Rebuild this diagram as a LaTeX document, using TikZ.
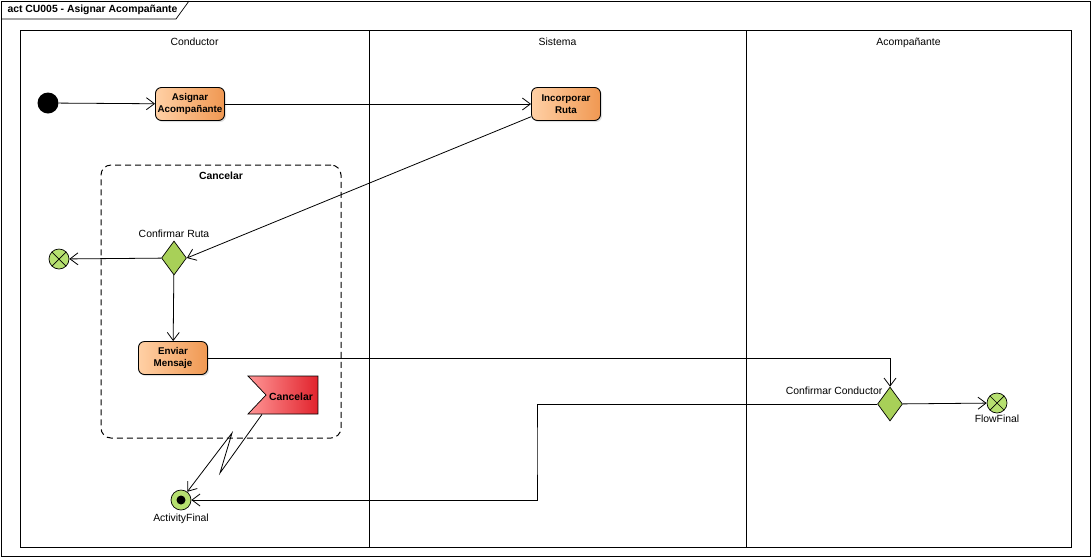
\documentclass[tikz,border=0pt]{standalone}
\usepackage{fontspec}
\setmainfont{Liberation Sans}
\usepackage{tikz}
\usetikzlibrary{positioning,arrows.meta,shapes.geometric,shapes.symbols,shadows}

\definecolor{actlight}{RGB}{255,208,165}
\definecolor{actdark}{RGB}{240,152,82}
\definecolor{decgreen}{RGB}{168,208,88}
\definecolor{fingreen}{RGB}{182,224,112}
\definecolor{sigl}{RGB}{255,150,150}
\definecolor{sigd}{RGB}{225,35,45}

\begin{document}
\begin{tikzpicture}[x=1pt, y=-1pt, >={Straight Barb[length=8pt,width=12pt]}, every node/.style={font=\fontsize{10.4}{12}\selectfont}]
\tikzset{
  action/.style={
    draw,
    line width=0.9pt,
    rounded corners=6pt,
    minimum width=69pt,
    minimum height=33pt,
    inner sep=1pt,
    align=center,
    left color=actlight,
    right color=actdark,
    drop shadow={opacity=0.25, shadow xshift=1.5pt, shadow yshift=-1.5pt},
    font=\fontsize{9.8}{11.5}\selectfont\bfseries,
  },
  decision/.style={draw, diamond, line width=0.7pt, fill=decgreen, minimum width=25pt, minimum height=34pt, inner sep=0pt},
  flowfinal/.style={draw, circle, line width=0.7pt, fill=fingreen, minimum size=20pt, inner sep=0pt,
    path picture={\draw[line width=0.7pt] (path picture bounding box.north west) -- (path picture bounding box.south east)
      (path picture bounding box.north east) -- (path picture bounding box.south west);}},
  actfinal/.style={draw, circle, line width=0.7pt, fill=fingreen, minimum size=20pt, inner sep=0pt,
    path picture={\fill[black] (path picture bounding box.center) circle (4.5pt);}},
  initial/.style={circle, fill=black, minimum size=21pt, inner sep=0pt},
  lane/.style={draw, line width=0.7pt, minimum height=517pt, inner sep=0pt},
  region/.style={draw, line width=1pt, dash pattern=on 6pt off 4pt, rounded corners=10pt, minimum width=240pt, minimum height=273pt},
  signalnode/.style={draw, line width=0.7pt, signal, signal from=west, signal to=nowhere, signal pointer angle=93,
    minimum width=70pt, minimum height=38pt, inner sep=0pt, left color=sigl, right color=sigd},
  boldtext/.style={font=\fontsize{10.4}{12}\selectfont\bfseries}
}
\useasboundingbox (0,0) rectangle (1091,558);
\draw[line width=0.7pt] (1,1) rectangle (1090,556);
\draw[line width=0.7pt] (1,19) -- (176,19) -- (189,1);
\node[boldtext, anchor=west] (title) at (4,10) {act CU005 - Asignar Acompañante};

\node[lane, minimum width=349pt, label={[anchor=north, yshift=-5pt]north:{Conductor}}] (lanecond) at (194.5,288.5) {};
\node[lane, minimum width=377pt, label={[anchor=north, yshift=-5pt]north:{Sistema}}] (lanesis) at (557.5,288.5) {};
\node[lane, minimum width=325pt, label={[anchor=north, yshift=-5pt]north:{Acompañante}}] (laneacomp) at (908.5,288.5) {};

\node[region, label={[anchor=north, boldtext, yshift=-4pt]north:{Cancelar}}] (cancelreg) at (221,301.5) {};

\node[initial] (start) at (48,103) {};
\node[action] (asignar) at (190,104) {Asignar\\Acompañante};
\node[action] (incorp) at (566,104) {Incorporar\\Ruta};
\node[decision, label={[label distance=0pt]above:{Confirmar Ruta}}] (confruta) at (174,258) {};
\node[flowfinal] (ffleft) at (59,259) {};
\node[action] (enviar) at (173,358) {Enviar\\Mensaje};
\node[signalnode, label={[boldtext, xshift=-1pt, yshift=-2pt]center:{Cancelar}}] (cancelsig) at (292,395) {};
\node[actfinal, label={[label distance=0pt]below:{ActivityFinal}}] (actfinal) at (181,500) {};
\node[decision, label={[anchor=south east, inner sep=1pt]north west:{Confirmar Conductor}}] (confcond) at (890,404) {};
\node[flowfinal, label={[label distance=-2pt]below:{FlowFinal}}] (ffright) at (997,403) {};

\draw[->, line width=0.8pt] (start) -- (asignar);
\draw[->, line width=0.8pt] (asignar) -- (incorp);
\draw[->, line width=0.8pt] (incorp.200) -- (confruta.east);
\draw[->, line width=0.8pt] (confruta) -- (ffleft);
\draw[->, line width=0.8pt] (confruta) -- (enviar);
\draw[->, line width=0.8pt] (enviar.east) -| (confcond.north);
\draw[->, line width=0.8pt] (confcond) -- (ffright);
\draw[->, line width=0.8pt] (confcond.west) -| (537,450) |- (actfinal);
\draw[->, line width=0.8pt] ([xshift=-30pt]cancelsig.south) -- (220,473) -- (232,433) -- (actfinal);
\end{tikzpicture}
\end{document}
